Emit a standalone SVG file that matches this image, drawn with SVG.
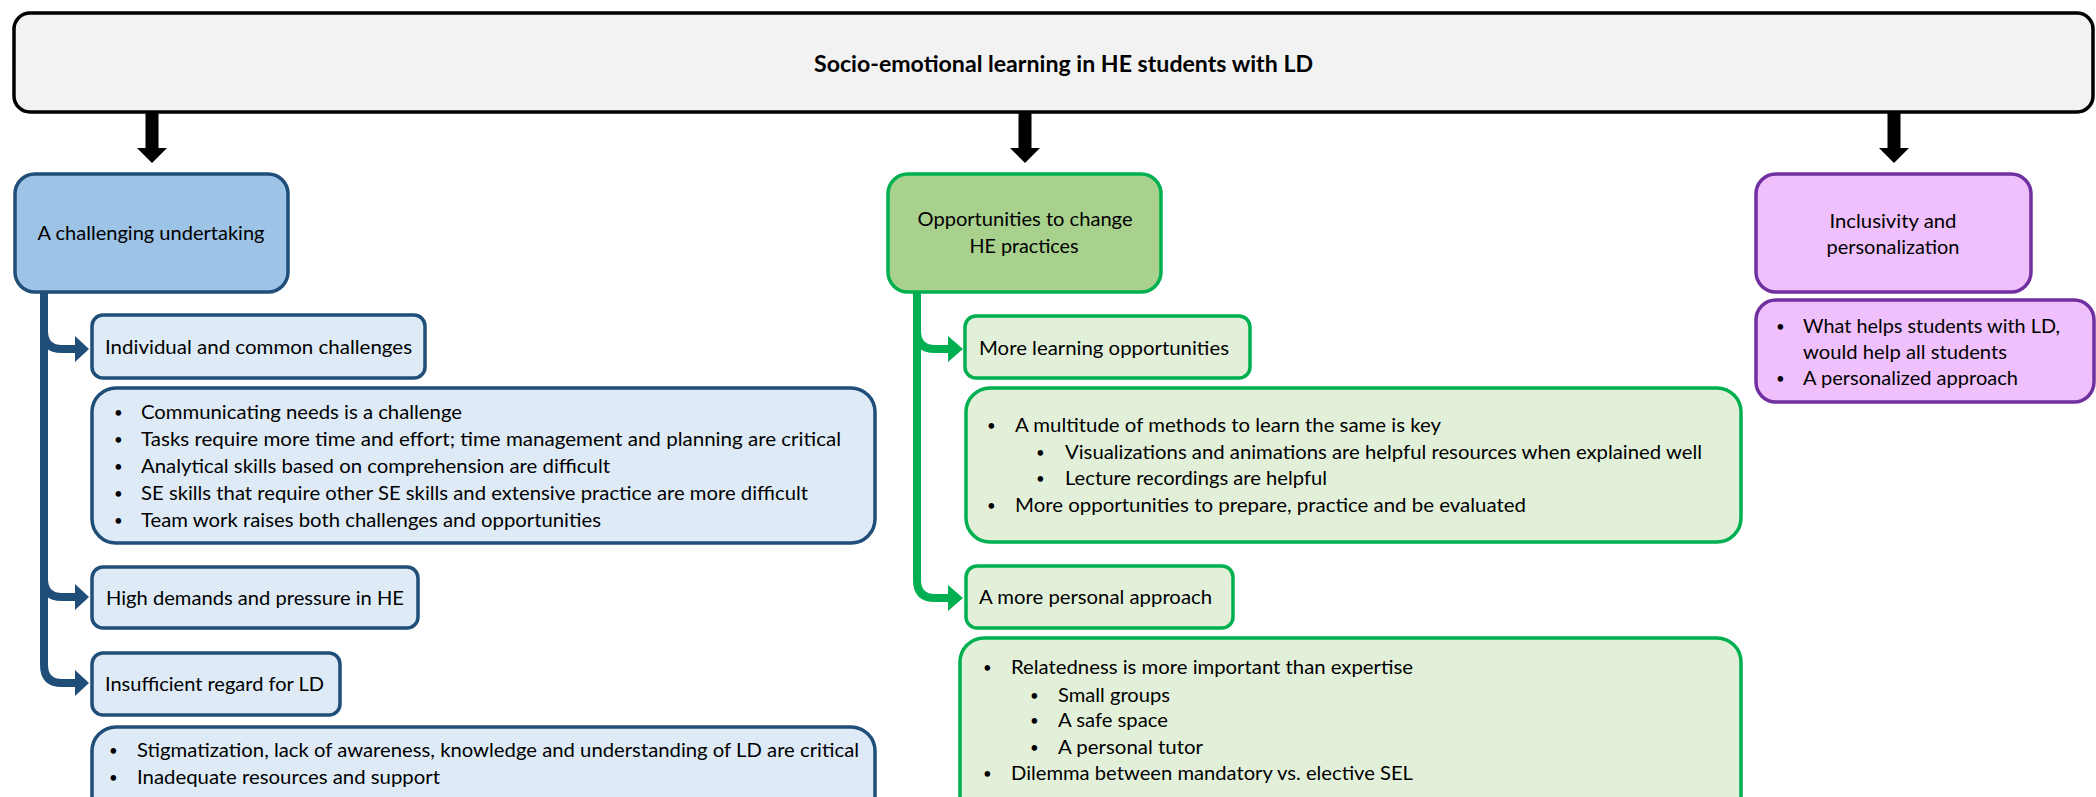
<svg xmlns="http://www.w3.org/2000/svg" width="2096" height="797" viewBox="0 0 2096 797">
<style>
text{font-family:Lato,"Liberation Sans",sans-serif;font-size:20px;fill:#000}
text.u{font-size:15px}
.t{font-weight:bold;font-size:22px}
.c{text-anchor:middle}
.top{fill:#f2f2f2;stroke:#000;stroke-width:3.5}
.bm{fill:#9dc3e6;stroke:#1f4e79;stroke-width:3.5}
.bs{fill:#deebf7;stroke:#1f4e79;stroke-width:3.5}
.gm{fill:#a9d18e;stroke:#00b050;stroke-width:3.5}
.gs{fill:#e2f0d9;stroke:#00b050;stroke-width:3.5}
.pm{fill:#efc0fc;stroke:#7030a0;stroke-width:3.5}
.bl{fill:none;stroke:#1f4e79;stroke-width:8}
.gl{fill:none;stroke:#00b050;stroke-width:8}
.bh{fill:#1f4e79}
.gh{fill:#00b050}
.ka{fill:#000}
</style>
<g id="root">
<rect class="top" x="14" y="13" width="2079" height="99" rx="16"/>
<text class="t" x="814" y="72" textLength="499" lengthAdjust="spacingAndGlyphs">Socio-emotional learning in HE students with LD</text>
</g>
<g id="connectors">
<rect class="ka" x="145.5" y="111" width="13" height="38"/>
<polygon class="ka" points="137,148 167,148 152,163"/>
<rect class="ka" x="1018.5" y="111" width="13" height="38"/>
<polygon class="ka" points="1010,148 1040,148 1025,163"/>
<rect class="ka" x="1887.5" y="111" width="13" height="38"/>
<polygon class="ka" points="1879,148 1909,148 1894,163"/>
<path class="bl" d="M44,292 V665 Q44,683 62,683 H77"/>
<path class="bl" d="M44,331 Q44,349 62,349 H77"/>
<path class="bl" d="M44,579 Q44,597 62,597 H77"/>
<polygon class="bh" points="75,336 89,349 75,362"/>
<polygon class="bh" points="75,584 89,597 75,610"/>
<polygon class="bh" points="75,670 89,683 75,696"/>
<path class="gl" d="M917,292 V580 Q917,598 935,598 H950"/>
<path class="gl" d="M917,331 Q917,349 935,349 H950"/>
<polygon class="gh" points="948,336 963,349 948,362"/>
<polygon class="gh" points="948,585 963,598 948,611"/>
</g>
<g id="challenging">
<rect class="bm" x="15" y="174" width="273" height="118" rx="20"/>
<text class="c" x="151" y="240" textLength="227" lengthAdjust="spacingAndGlyphs">A challenging undertaking</text>
</g>
<g id="individual">
<rect class="bs" x="92" y="315" width="333" height="63" rx="11"/>
<text x="105" y="354" textLength="307" lengthAdjust="spacingAndGlyphs">Individual and common challenges</text>
</g>
<g id="individual-list">
<rect class="bs" x="92" y="388" width="783" height="155" rx="24"/>
<text class="u" x="114" y="418">•</text><text x="141" y="419" textLength="321" lengthAdjust="spacingAndGlyphs">Communicating needs is a challenge</text>
<text class="u" x="114" y="445">•</text><text x="141" y="446" textLength="700" lengthAdjust="spacingAndGlyphs">Tasks require more time and effort; time management and planning are critical</text>
<text class="u" x="114" y="472">•</text><text x="141" y="473" textLength="469" lengthAdjust="spacingAndGlyphs">Analytical skills based on comprehension are difficult</text>
<text class="u" x="114" y="499">•</text><text x="141" y="500" textLength="667" lengthAdjust="spacingAndGlyphs">SE skills that require other SE skills and extensive practice are more difficult</text>
<text class="u" x="114" y="526">•</text><text x="141" y="527" textLength="460" lengthAdjust="spacingAndGlyphs">Team work raises both challenges and opportunities</text>
</g>
<g id="high-demands">
<rect class="bs" x="92" y="567" width="326" height="61" rx="11"/>
<text x="106" y="605" textLength="298" lengthAdjust="spacingAndGlyphs">High demands and pressure in HE</text>
</g>
<g id="insufficient">
<rect class="bs" x="92" y="653" width="248" height="62" rx="11"/>
<text x="105" y="691" textLength="219" lengthAdjust="spacingAndGlyphs">Insufficient regard for LD</text>
</g>
<g id="insufficient-list">
<rect class="bs" x="92" y="727" width="783" height="100" rx="24"/>
<text class="u" x="109" y="756">•</text><text x="137" y="757" textLength="722" lengthAdjust="spacingAndGlyphs">Stigmatization, lack of awareness, knowledge and understanding of LD are critical</text>
<text class="u" x="109" y="783">•</text><text x="137" y="784" textLength="303" lengthAdjust="spacingAndGlyphs">Inadequate resources and support</text>
</g>
<g id="opportunities">
<rect class="gm" x="888" y="174" width="273" height="118" rx="20"/>
<text class="c" x="1025" y="226" textLength="215" lengthAdjust="spacingAndGlyphs">Opportunities to change</text>
<text class="c" x="1024" y="253" textLength="109" lengthAdjust="spacingAndGlyphs">HE practices</text>
</g>
<g id="more-learning">
<rect class="gs" x="965" y="316" width="285" height="62" rx="11"/>
<text x="979" y="355" textLength="250" lengthAdjust="spacingAndGlyphs">More learning opportunities</text>
</g>
<g id="more-learning-list">
<rect class="gs" x="966" y="388" width="775" height="154" rx="24"/>
<text class="u" x="987" y="431">•</text><text x="1015" y="432" textLength="426" lengthAdjust="spacingAndGlyphs">A multitude of methods to learn the same is key</text>
<text class="u" x="1036" y="458">•</text><text x="1065" y="459" textLength="637" lengthAdjust="spacingAndGlyphs">Visualizations and animations are helpful resources when explained well</text>
<text class="u" x="1036" y="484">•</text><text x="1065" y="485" textLength="262" lengthAdjust="spacingAndGlyphs">Lecture recordings are helpful</text>
<text class="u" x="987" y="511">•</text><text x="1015" y="512" textLength="511" lengthAdjust="spacingAndGlyphs">More opportunities to prepare, practice and be evaluated</text>
</g>
<g id="personal">
<rect class="gs" x="966" y="566" width="267" height="62" rx="11"/>
<text x="979" y="604" textLength="233" lengthAdjust="spacingAndGlyphs">A more personal approach</text>
</g>
<g id="personal-list">
<rect class="gs" x="960" y="638" width="781" height="190" rx="24"/>
<text class="u" x="983" y="673">•</text><text x="1011" y="674" textLength="402" lengthAdjust="spacingAndGlyphs">Relatedness is more important than expertise</text>
<text class="u" x="1030" y="701">•</text><text x="1058" y="702" textLength="112" lengthAdjust="spacingAndGlyphs">Small groups</text>
<text class="u" x="1030" y="726">•</text><text x="1058" y="727" textLength="110" lengthAdjust="spacingAndGlyphs">A safe space</text>
<text class="u" x="1030" y="753">•</text><text x="1058" y="754" textLength="145" lengthAdjust="spacingAndGlyphs">A personal tutor</text>
<text class="u" x="983" y="779">•</text><text x="1011" y="780" textLength="402" lengthAdjust="spacingAndGlyphs">Dilemma between mandatory vs. elective SEL</text>
</g>
<g id="inclusivity">
<rect class="pm" x="1756" y="174" width="275" height="118" rx="20"/>
<text class="c" x="1893" y="228" textLength="127" lengthAdjust="spacingAndGlyphs">Inclusivity and</text>
<text class="c" x="1893" y="254" textLength="133" lengthAdjust="spacingAndGlyphs">personalization</text>
</g>
<g id="inclusivity-list">
<rect class="pm" x="1756" y="300" width="338" height="102" rx="20"/>
<text class="u" x="1776" y="332">•</text><text x="1803" y="333" textLength="257" lengthAdjust="spacingAndGlyphs">What helps students with LD,</text>
<text x="1803" y="359" textLength="204" lengthAdjust="spacingAndGlyphs">would help all students</text>
<text class="u" x="1776" y="384">•</text><text x="1803" y="385" textLength="215" lengthAdjust="spacingAndGlyphs">A personalized approach</text>
</g>
</svg>
